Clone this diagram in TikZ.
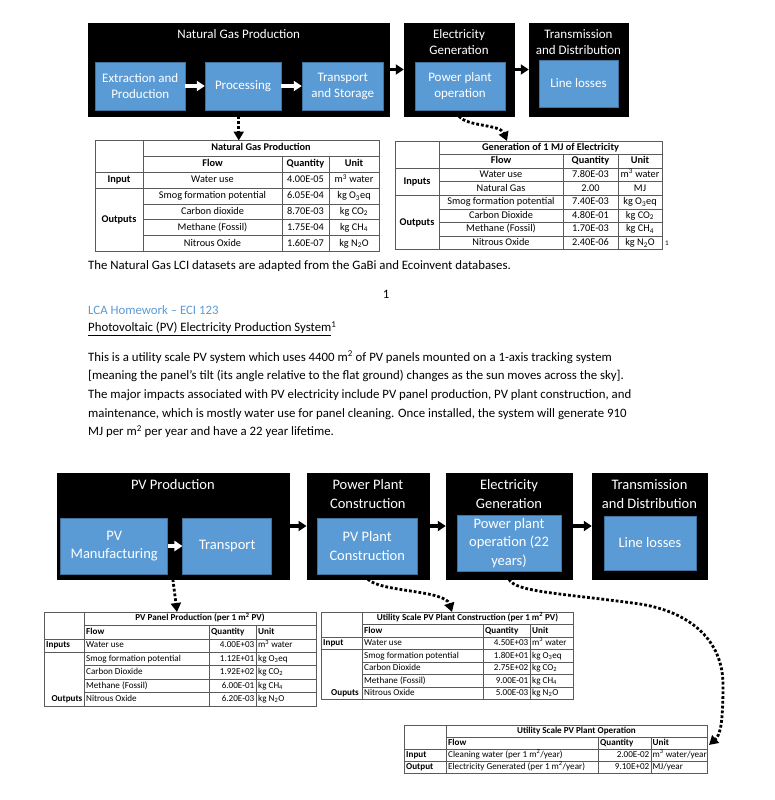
\documentclass[tikz,border=0pt]{standalone}
\usepackage{fontspec}
\setmainfont{Carlito}
\usepackage{xcolor}
\usepackage{tikz}
\usetikzlibrary{arrows.meta}

\definecolor{stageblue}{HTML}{5B9BD5}
\definecolor{stageedge}{HTML}{41719C}
\definecolor{titleblue}{HTML}{5B9BD5}
\definecolor{rulegray}{HTML}{5A5A5A}

\newcommand{\bodyfont}{\fontsize{12.8}{18.7}\selectfont}
\newcommand{\stagefont}{\fontsize{13}{16}\selectfont}
\newcommand{\pvfont}{\fontsize{14.5}{18.7}\selectfont}
\newcommand{\bigtab}{\fontsize{10.3}{12}\selectfont}
\newcommand{\smalltab}{\fontsize{9.1}{11}\selectfont}

\begin{document}
\begin{tikzpicture}[x=1pt, y=-1pt,
    stage/.style={fill=black, draw=black, inner sep=0pt},
    stagetitle/.style={text=white, align=center, inner sep=0pt},
    task/.style={fill=stageblue, draw=stageedge, line width=0.5pt, text=white, align=center, inner sep=0pt},
    flowarr/.style={-{Triangle[length=8pt, width=10pt]}, line width=3.4pt},
    linkarr/.style={-{Triangle[length=9pt, width=10pt]}, line width=2.8pt, dash pattern=on 2.8pt off 2pt},
    tabrule/.style={draw=rulegray, line width=0.7pt},
    bigcell/.style={inner sep=0pt, font=\bigtab, text height=7.3pt, text depth=2.2pt},
    bighead/.style={bigcell, font=\bigtab\bfseries},
    smallcell/.style={inner sep=0pt, font=\smalltab, text height=6.5pt, text depth=2pt},
    smallhead/.style={smallcell, font=\smalltab\bfseries},
    bodytext/.style={inner sep=0pt, anchor=base west, font=\bodyfont},
]

    % Поле рисунка
    \path[use as bounding box, fill=white] (0,0) rectangle (775,800);

    % Схема: природный газ
    \node[stage, minimum width=300.5pt, minimum height=93pt] (ngp) at (238.75,69.5) {};
    \node[stagetitle, font=\stagefont] (ngpt) at (238.75,34) {Natural Gas Production};
    \node[task, font=\stagefont, minimum width=89.5pt, minimum height=48pt] (ext) at (140.25,86) {Extraction and\\Production};
    \node[task, font=\stagefont, minimum width=76pt, minimum height=48pt] (proc) at (243,86) {Processing};
    \node[task, font=\stagefont, minimum width=81.5pt, minimum height=48pt] (tas) at (342.75,86) {Transport\\and Storage};

    \node[stage, minimum width=110pt, minimum height=93pt] (eg) at (459,69.5) {};
    \node[stagetitle, font=\stagefont] (egt) at (459,42) {Electricity\\Generation};
    \node[task, font=\stagefont, minimum width=90pt, minimum height=48pt] (ppo) at (460,86) {Power plant\\operation};

    \node[stage, minimum width=99pt, minimum height=93pt] (td) at (578.5,69.5) {};
    \node[stagetitle, font=\stagefont] (tdt) at (578.5,42) {Transmission\\and Distribution};
    \node[task, font=\stagefont, minimum width=79pt, minimum height=47pt] (ll) at (578.5,83.5) {Line losses};

    % Стрелки
    \draw[flowarr, white] (ext.east) -- (proc.west);
    \draw[flowarr, white] (proc.east) -- (tas.west);
    \draw[flowarr] (ngp.east) -- (eg.west);
    \draw[flowarr] (eg.east) -- (td.west);

    \coordinate (ngtop) at (238.75,140.5);
    \coordinate (gentop) at (507,141);
    \draw[linkarr] (ngp.south) -- (ngtop);
    \draw[linkarr] (eg.south) .. controls (468,127) and (500,124) .. (gentop);

    % Таблица: добыча газа
    \draw[tabrule] (95,140.5) rectangle (379,251.5);
    \draw[tabrule] (143,140.5) -- (143,251.5);
    \foreach \c in {282,329} \draw[tabrule] (\c,156.35) -- (\c,251.5);
    \foreach \i in {1,...,6} \draw[tabrule] (143,{140.5+\i*15.85}) -- (379,{140.5+\i*15.85});
    \draw[tabrule] (95,172.2) -- (143,172.2);
    \draw[tabrule] (95,188.05) -- (143,188.05);

    \node[bighead] (ngtt) at (261,148.4) {Natural Gas Production};
    \node[bighead] (ngflow) at (212.5,164.3) {Flow};
    \node[bighead] (ngqty) at (305.5,164.3) {Quantity};
    \node[bighead] (ngunit) at (354,164.3) {Unit};
    \node[bighead] (ngin) at (119,180.1) {Input};
    \node[bighead] (ngout) at (119,219.8) {Outputs};
    \foreach \fl/\q/\u [count=\i from 3] in {
        Water use/4.00E-05/m\textsuperscript{3} water,
        Smog formation potential/6.05E-04/kg O\textsubscript{3}eq,
        Carbon dioxide/8.70E-03/kg CO\textsubscript{2},
        Methane (Fossil)/1.75E-04/kg CH\textsubscript{4},
        Nitrous Oxide/1.60E-07/kg N\textsubscript{2}O}
    {
        \node[bigcell] (ngf\i) at (212.5,{140.5+(\i-0.5)*15.85}) {\fl};
        \node[bigcell] (ngq\i) at (305.5,{140.5+(\i-0.5)*15.85}) {\q};
        \node[bigcell] (ngu\i) at (354,{140.5+(\i-0.5)*15.85}) {\u};
    }

    % Таблица: генерация 1 MJ
    \draw[tabrule] (395,141) rectangle (662,249.8);
    \draw[tabrule] (439,141) -- (439,249.8);
    \foreach \c in {563,618} \draw[tabrule] (\c,154.6) -- (\c,249.8);
    \foreach \i in {1,...,7} \draw[tabrule] (439,{141+\i*13.6}) -- (662,{141+\i*13.6});
    \draw[tabrule] (395,168.2) -- (439,168.2);
    \draw[tabrule] (395,195.4) -- (439,195.4);

    \node[bighead] (gentt) at (550.5,147.8) {Generation of 1 MJ of Electricity};
    \node[bighead] (genflow) at (501,161.4) {Flow};
    \node[bighead] (genqty) at (590.5,161.4) {Quantity};
    \node[bighead] (genunit) at (640,161.4) {Unit};
    \node[bighead] (genin) at (417,181.8) {Inputs};
    \node[bighead] (genout) at (417,222.6) {Outputs};
    \foreach \fl/\q/\u [count=\i from 3] in {
        Water use/7.80E-03/m\textsuperscript{3} water,
        Natural Gas/2.00/MJ,
        Smog formation potential/7.40E-03/kg O\textsubscript{3}eq,
        Carbon Dioxide/4.80E-01/kg CO\textsubscript{2},
        Methane (Fossil)/1.70E-03/kg CH\textsubscript{4},
        Nitrous Oxide/2.40E-06/kg N\textsubscript{2}O}
    {
        \node[bigcell] (genf\i) at (501,{141+(\i-0.5)*13.6}) {\fl};
        \node[bigcell] (genq\i) at (590.5,{141+(\i-0.5)*13.6}) {\q};
        \node[bigcell] (genu\i) at (640,{141+(\i-0.5)*13.6}) {\u};
    }
    \node[inner sep=0pt, anchor=west, font=\fontsize{7}{8}\selectfont] (genfn) at (665,243) {1};

    % Текст страницы
    \node[bodytext] (note) at (88,269.8) {The Natural Gas LCI datasets are adapted from the GaBi and Ecoinvent databases.};
    \node[inner sep=0pt, anchor=base, font=\bodyfont] (pagenum) at (386,298) {1};
    \node[bodytext, text=titleblue] (hw) at (88,314.5) {LCA Homework – ECI 123};
    \node[bodytext] (pvtitle) at (88,331.5) {\underline{Photovoltaic (PV) Electricity Production System}\textsuperscript{1}};
    \node[bodytext] (par1) at (88,361) {This is a utility scale PV system which uses 4400 m\textsuperscript{2} of PV panels mounted on a 1-axis tracking system};
    \node[bodytext] (par2) at (88,379.7) {[meaning the panel’s tilt (its angle relative to the flat ground) changes as the sun moves across the sky].};
    \node[bodytext] (par3) at (88,398.4) {The major impacts associated with PV electricity include PV panel production, PV plant construction, and};
    \node[bodytext] (par4) at (88,417.1) {maintenance, which is mostly water use for panel cleaning. Once installed, the system will generate 910};
    \node[bodytext] (par5) at (88,435.8) {MJ per m\textsuperscript{2} per year and have a 22 year lifetime.};

    % Схема: PV
    \node[stage, minimum width=232.3pt, minimum height=106pt] (pvp) at (172.85,526) {};
    \node[stagetitle, font=\pvfont] (pvpt) at (172.85,485) {PV Production};
    \node[task, font=\pvfont, minimum width=107pt, minimum height=56pt] (pvm) at (114.2,546) {PV\\Manufacturing};
    \node[task, font=\pvfont, minimum width=89pt, minimum height=56pt] (tr) at (227.2,546) {Transport};

    \node[stage, minimum width=122.3pt, minimum height=106pt] (ppc) at (367.85,526) {};
    \node[stagetitle, font=\pvfont] (ppct) at (367.85,494) {Power Plant\\Construction};
    \node[task, font=\pvfont, minimum width=100.5pt, minimum height=56pt] (pvpc) at (367.25,546) {PV Plant\\Construction};

    \node[stage, minimum width=126pt, minimum height=106pt] (egb) at (509,526) {};
    \node[stagetitle, font=\pvfont] (egbt) at (509,494) {Electricity\\Generation};
    \node[task, font=\pvfont, minimum width=104pt, minimum height=56pt] (ppol) at (509,543) {Power plant\\operation (22\\years)};

    \node[stage, minimum width=115pt, minimum height=106pt] (tdb) at (649.5,526) {};
    \node[stagetitle, font=\pvfont] (tdbt) at (649.5,494) {Transmission\\and Distribution};
    \node[task, font=\pvfont, minimum width=92pt, minimum height=54pt] (llb) at (650,543) {Line losses};

    % Стрелки
    \draw[flowarr, white] (pvm.east) -- (tr.west);
    \draw[flowarr] (pvp.east) -- (ppc.west);
    \draw[flowarr] (ppc.east) -- (egb.west);
    \draw[flowarr] (egb.east) -- (tdb.west);

    \coordinate (pvtop) at (177,612);
    \coordinate (upctop) at (452,612);
    \coordinate (upotop) at (709,745);
    \draw[linkarr] (pvp.south) -- (pvtop);
    \draw[linkarr] (ppc.south) .. controls (380,592) and (445,590) .. (upctop);
    \draw[linkarr] (egb.south) .. controls (515,592) and (560,593) .. (640,604)
        .. controls (690,612) and (723,640) .. (723,685)
        .. controls (723,725) and (720,735) .. (upotop);

    % Таблица: панели PV
    \draw[tabrule] (44,612) rectangle (316,706);
    \draw[tabrule] (84,612) -- (84,706);
    \foreach \c in {209,256} \draw[tabrule] (\c,625.43) -- (\c,706);
    \foreach \i in {1,...,6} \draw[tabrule] (84,{612+\i*13.43}) -- (316,{612+\i*13.43});
    \draw[tabrule] (44,638.86) -- (84,638.86);
    \draw[tabrule] (44,652.29) -- (84,652.29);

    \node[smallhead] (pvtt) at (200,618.7) {PV Panel Production (per 1 m\textsuperscript{2} PV)};
    \node[smallhead, anchor=west] (pvflow) at (86,632.1) {Flow};
    \node[smallhead, anchor=west] (pvqty) at (211,632.1) {Quantity};
    \node[smallhead, anchor=west] (pvunit) at (258,632.1) {Unit};
    \node[smallhead, anchor=west] (pvin) at (46,645.6) {Inputs};
    \node[smallhead, anchor=east] (pvout) at (82.5,699.3) {Outputs};
    \foreach \fl/\q/\u [count=\i from 3] in {
        Water use/4.00E+03/m\textsuperscript{3} water,
        Smog formation potential/1.12E+01/kg O\textsubscript{3}eq,
        Carbon Dioxide/1.92E+02/kg CO\textsubscript{2},
        Methane (Fossil)/6.00E-01/kg CH\textsubscript{4},
        Nitrous Oxide/6.20E-03/kg N\textsubscript{2}O}
    {
        \node[smallcell, anchor=west] (pvf\i) at (86,{612+(\i-0.5)*13.43}) {\fl};
        \node[smallcell, anchor=east] (pvq\i) at (254.5,{612+(\i-0.5)*13.43}) {\q};
        \node[smallcell, anchor=west] (pvu\i) at (258,{612+(\i-0.5)*13.43}) {\u};
    }

    % Таблица: строительство станции
    \draw[tabrule] (321,612) rectangle (573,699.5);
    \draw[tabrule] (362,612) -- (362,699.5);
    \foreach \c in {483,530} \draw[tabrule] (\c,624.5) -- (\c,699.5);
    \foreach \i in {1,...,6} \draw[tabrule] (362,{612+\i*12.5}) -- (573,{612+\i*12.5});
    \draw[tabrule] (321,637) -- (362,637);
    \draw[tabrule] (321,649.5) -- (362,649.5);

    \node[smallhead] (upctt) at (467.5,618.25) {Utility Scale PV Plant Construction (per 1 m\textsuperscript{2} PV)};
    \node[smallhead, anchor=west] (upcflow) at (364,630.75) {Flow};
    \node[smallhead, anchor=west] (upcqty) at (485,630.75) {Quantity};
    \node[smallhead, anchor=west] (upcunit) at (532,630.75) {Unit};
    \node[smallhead, anchor=west] (upcin) at (323,643.25) {Input};
    \node[smallhead, anchor=east] (upcout) at (359,693.25) {Ouputs};
    \foreach \fl/\q/\u [count=\i from 3] in {
        Water use/4.50E+03/m\textsuperscript{3} water,
        Smog formation potential/1.80E+01/kg O\textsubscript{3}eq,
        Carbon Dioxide/2.75E+02/kg CO\textsubscript{2},
        Methane (Fossil)/9.00E-01/kg CH\textsubscript{4},
        Nitrous Oxide/5.00E-03/kg N\textsubscript{2}O}
    {
        \node[smallcell, anchor=west] (upcf\i) at (364,{612+(\i-0.5)*12.5}) {\fl};
        \node[smallcell, anchor=east] (upcq\i) at (528.5,{612+(\i-0.5)*12.5}) {\q};
        \node[smallcell, anchor=west] (upcu\i) at (532,{612+(\i-0.5)*12.5}) {\u};
    }

    % Таблица: эксплуатация станции
    \draw[tabrule] (404,725) rectangle (707,773.4);
    \draw[tabrule] (446,725) -- (446,773.4);
    \foreach \c in {598,651} \draw[tabrule] (\c,737.1) -- (\c,773.4);
    \foreach \i in {1,2,3} \draw[tabrule] (446,{725+\i*12.1}) -- (707,{725+\i*12.1});
    \draw[tabrule] (404,749.2) -- (446,749.2);
    \draw[tabrule] (404,761.3) -- (446,761.3);

    \node[smallhead] (upott) at (576.5,731) {Utility Scale PV Plant Operation};
    \node[smallhead, anchor=west] (upoflow) at (448,743.2) {Flow};
    \node[smallhead, anchor=west] (upoqty) at (600,743.2) {Quantity};
    \node[smallhead, anchor=west] (upounit) at (652.5,743.2) {Unit};
    \node[smallhead, anchor=west] (upoin) at (406,755.3) {Input};
    \node[smallhead, anchor=west] (upoout) at (406,767.4) {Output};
    \node[smallcell, anchor=west] (upof3) at (448,755.3) {Cleaning water (per 1 m\textsuperscript{2}/year)};
    \node[smallcell, anchor=east] (upoq3) at (649.5,755.3) {2.00E-02};
    \node[smallcell, anchor=west] (upou3) at (652.5,755.3) {m\textsuperscript{3} water/year};
    \node[smallcell, anchor=west] (upof4) at (448,767.4) {Electricity Generated (per 1 m\textsuperscript{2}/year)};
    \node[smallcell, anchor=east] (upoq4) at (649.5,767.4) {9.10E+02};
    \node[smallcell, anchor=west] (upou4) at (652.5,767.4) {MJ/year};

\end{tikzpicture}
\end{document}
